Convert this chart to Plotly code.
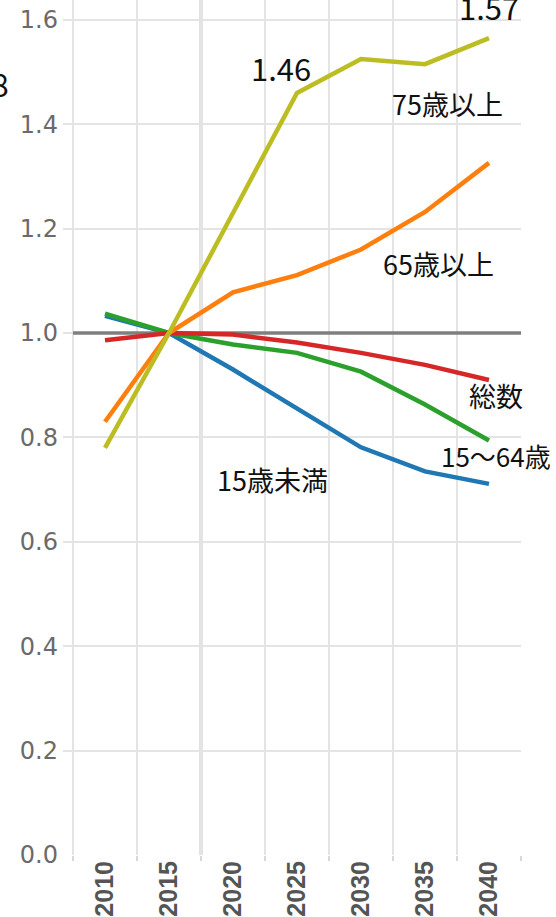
import plotly.graph_objects as go

years = ["2010", "2015", "2020", "2025", "2030", "2035", "2040"]
age75_over = [0.78, 1.00, 1.23, 1.46, 1.525, 1.515, 1.565]
age65_over = [0.83, 1.00, 1.078, 1.111, 1.16, 1.232, 1.326]
total = [0.986, 1.00, 0.997, 0.982, 0.962, 0.939, 0.910]
age15_64 = [1.037, 1.00, 0.978, 0.962, 0.926, 0.863, 0.794]
under15 = [1.033, 1.00, 0.930, 0.856, 0.781, 0.735, 0.711]
y_ticks = [0.0, 0.2, 0.4, 0.6, 0.8, 1.0, 1.2, 1.4, 1.6]

series = [
    ("15歳未満", under15, "#1f77b4"),
    ("15～64歳", age15_64, "#2ca02c"),
    ("総数", total, "#d62728"),
    ("65歳以上", age65_over, "#ff7f0e"),
    ("75歳以上", age75_over, "#bcbd22"),
]

W, H = 556, 917
L, R, T, B = 63, 35, 0, 62
PW, PH = W - L - R, H - T - B


def px2paper(px, py):
    return (px - L) / PW, (H - B - py) / PH


fig = go.Figure()
for name, vals, color in series:
    fig.add_trace(go.Scatter(
        x=years, y=vals, mode="lines", name=name,
        line=dict(color=color, width=4.5), showlegend=False,
        hoverinfo="skip",
    ))

# reference line at 1.0 and projection boundary
fig.add_shape(type="line", xref="x", yref="y", x0=-0.5, x1=6.5, y0=1.0, y1=1.0,
              line=dict(color="#7f7f7f", width=3.5), layer="between")
fig.add_shape(type="line", xref="x", yref="paper", x0=1.5, x1=1.5, y0=0, y1=1,
              line=dict(color="#c4c4c4", width=3), layer="between")

jp_font = "Noto Sans CJK JP"
labels = [
    ("1.46", 281, 68, 31),
    ("1.57", 489, 6, 31),
    ("75歳以上", 447, 104, 27),
    ("65歳以上", 438, 263, 27),
    ("総数", 496, 395, 27),
    ("15～64歳", 496, 455, 26),
    ("15歳未満", 272, 479, 27),
]
for text, px, py, size in labels:
    xp, yp = px2paper(px, py)
    fig.add_annotation(x=xp, y=yp, xref="paper", yref="paper", text=text,
                       showarrow=False, xanchor="center", yanchor="middle",
                       font=dict(family=jp_font, size=size, color="#111111"))

# partially visible label at the left edge (cut off in the reference too)
xp, yp = px2paper(11, 83)
fig.add_annotation(x=xp, y=yp, xref="paper", yref="paper", text="8",
                   showarrow=False, xanchor="right", yanchor="middle",
                   font=dict(family=jp_font, size=32, color="#111111"))

fig.update_layout(
    width=W, height=H,
    margin=dict(l=L, r=R, t=T, b=B, pad=0, autoexpand=False),
    paper_bgcolor="white", plot_bgcolor="white",
    xaxis=dict(
        type="category", categoryorder="array", categoryarray=years,
        range=[-0.656, 6.5], tickson="boundaries", automargin=False,
        showgrid=True, gridcolor="#e4e4e4", gridwidth=1.5,
        ticks="outside", ticklen=5, tickcolor="#d8d8d8", tickwidth=1.5,
        tickangle=-90, showline=False, zeroline=False,
        tickfont=dict(family="Liberation Sans, Arial, sans-serif",
                      size=25, color="#555555", weight="bold"),
    ),
    yaxis=dict(
        range=[0, 1.638], tickvals=y_ticks, tickformat=".1f", automargin=False,
        showgrid=True, gridcolor="#e4e4e4", gridwidth=1.5,
        zeroline=False, showline=False, ticks="", ticklabelstandoff=4,
        tickfont=dict(family="DejaVu Sans", size=24, color="#6a6a6a"),
    ),
)

fig.write_html(
    "out.html",
    config={"displayModeBar": False},
    post_script="document.body.style.margin='0';document.body.style.overflow='hidden';",
)
